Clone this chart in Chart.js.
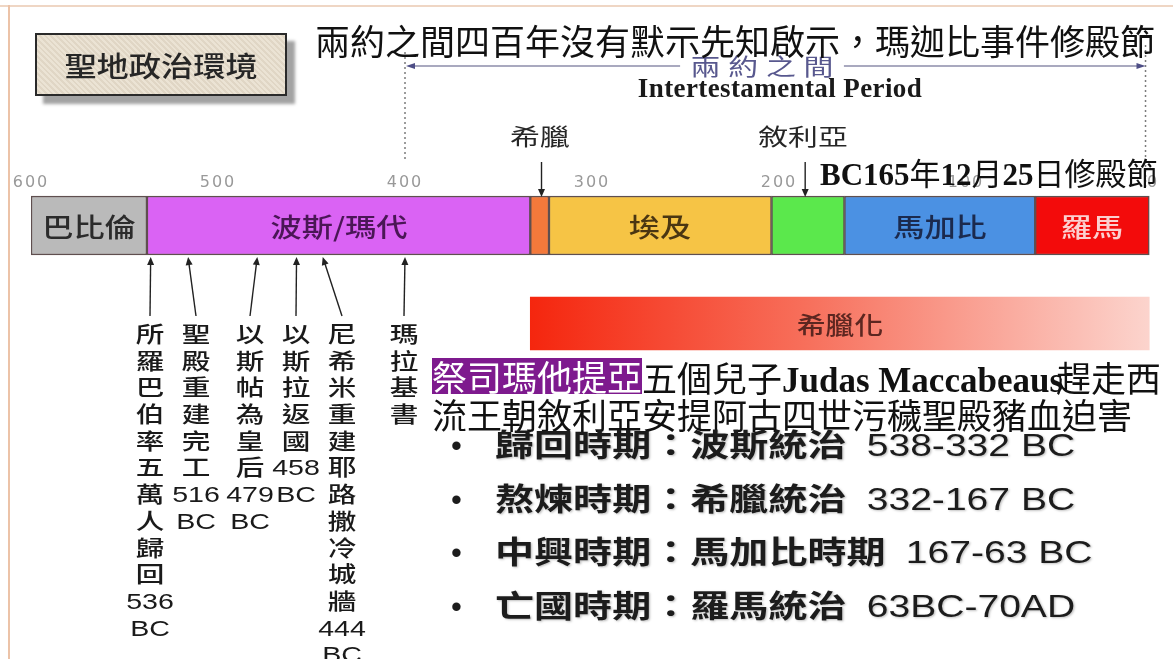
<!DOCTYPE html>
<html lang="zh-Hant">
<head>
<meta charset="utf-8">
<title>聖地政治環境</title>
<script src="https://cdn.jsdelivr.net/npm/chart.js@4.4.1/dist/chart.umd.min.js"></script>
<style>
    html, body { margin: 0; padding: 0; background: #fff; }
    #stage { position: relative; width: 1173px; height: 659px; overflow: hidden; font-family: "Noto Sans CJK TC", sans-serif; color: #1a1a1a; }
    #chart { position: absolute; left: 0; top: 0; }
    .abs { position: absolute; white-space: nowrap; }
    .frame-top { position: absolute; left: 0; top: 5px; width: 1173px; height: 1.5px; background: #efd6c4; }
    .frame-left { position: absolute; left: 8px; top: 5px; width: 1.5px; height: 654px; background: #ecc3a8; }
    .title-box { left: 35px; top: 33px; width: 248px; height: 59px; border: 2px solid #2a2a2a; background: #e7ddcb;
                 background-image: repeating-linear-gradient(45deg, rgba(255,255,255,0.18) 0 2px, rgba(0,0,0,0.03) 2px 4px);
                 box-shadow: 8px 8px 3px #a3a3a3; }
    .title-box span { position: absolute; left: 50%; top: 50%; transform: translate(-50%, -50%) scaleX(1.15); font-size: 28px; font-weight: 500; color: #262626; }
    .headline { left: 315px; top: 20px; font-size: 35px; line-height: 40px; color: #111; }
    .gap-label { left: 762px; top: 65px; transform: translate(-50%, -50%) scaleX(1.3); font-size: 23px; letter-spacing: 6px; padding: 0 2px 0 8px;
                 color: #58588e; background: #fff; line-height: 24px; }
    .en { font-family: "Liberation Serif", "Noto Sans CJK TC", serif; font-weight: bold; }
    .period-en { left: 780px; top: 88px; transform: translate(-50%, -50%); font-size: 27px; letter-spacing: 0.4px; line-height: 30px; color: #1a1a1a; }
    .marker { transform: translate(-50%, -50%) scaleX(1.3); font-size: 23px; line-height: 26px; color: #262626; }
    .feast { left: 820px; top: 152px; font-size: 31px; line-height: 40px; color: #111; }
    .bar-label { transform: translate(-50%, -50%) scaleX(1.2); font-size: 26px; line-height: 30px; font-weight: 500; }
    .col { top: 322px; width: 60px; margin-left: -30px; text-align: center; font-family: "Liberation Sans", "Noto Sans CJK TC", sans-serif;
           font-size: 22px; color: #1a1a1a; transform: scaleX(1.3); font-weight: 500; }
    .col div { height: 26.7px; line-height: 26.7px; }
    .para { left: 432px; font-size: 35px; line-height: 37px; height: 37px; color: #111; }
    .para .hl { display: inline-block; height: 36px; line-height: 36px; background: #7e1a8e; color: #fff; vertical-align: top; }
    .para .en { font-size: 35px; }
    .bullet { left: 451px; font-family: "Liberation Sans", sans-serif; font-size: 31px; line-height: 40px; color: #1c1c1c; }
    .sum { left: 495px; font-family: "Liberation Sans", "Noto Sans CJK TC", sans-serif; font-size: 31px; line-height: 40px; font-weight: bold;
           color: #1c1c1c; transform-origin: left center; transform: scaleX(1.26); text-shadow: 1px 1px 2px rgba(0,0,0,0.25); }
    .sum .yr { font-weight: normal; margin-left: 16px; }
</style>
</head>
<body>
<div id="stage">
    <div class="frame-top"></div>
    <div class="frame-left"></div>
    <canvas id="chart" width="1173" height="659"></canvas>
    <div class="abs title-box"><span>聖地政治環境</span></div>
    <div class="abs gap-label">兩約之間</div>
    <div class="abs headline">兩約之間四百年沒有默示先知啟示，瑪迦比事件修殿節</div>
    <div class="abs en period-en">Intertestamental Period</div>
    <div class="abs feast"><span class="en">BC165</span>年<span class="en">12</span>月<span class="en">25</span>日修殿節</div>
    <div class="abs para" style="top:358px"><span class="hl">祭司瑪他提亞</span>五個兒子<span class="en">Judas Maccabeaus</span><span style="margin-left:-7px">趕走西</span></div>
    <div class="abs para" style="top:395px">流王朝敘利亞安提阿古四世污穢聖殿豬血迫害</div>
    <div id="overlay"></div>
</div>
<script>
// timeline rows
const rowLabels = ['政權', '希臘化'];

// ruling powers, years BC (from -> to)
const periodNames = ['巴比倫', '波斯/瑪代', '', '埃及', '', '馬加比', '羅馬'];
const periodFrom  = [600, 538, 333, 323, 204, 165, 63];
const periodTo    = [538, 333, 323, 204, 165, 63, 2];

// hellenization band
const hellenRange = [333, 2];

// intertestamental period bounds
const gapRange = [400, 4];

// markers above the bar
const markerYears = [327, 186];
const markerNames = ['希臘', '敘利亞'];

// events below the bar
const eventYears    = [536, 516, 479, 458, 444, 400];
const eventNames    = ['所羅巴伯率五萬人歸回', '聖殿重建完工', '以斯帖為皇后', '以斯拉返國', '尼希米重建耶路撒冷城牆', '瑪拉基書'];
const eventYearText = ['536', '516', '479', '458', '444', ''];

// summary list
const summaryNames = ['歸回時期：波斯統治', '熬煉時期：希臘統治', '中興時期：馬加比時期', '亡國時期：羅馬統治'];
const summaryYears = ['538-332 BC', '332-167 BC', '167-63 BC', '63BC-70AD'];

// styles
const PERIOD_COLORS = ['#bababa', '#da63f4', '#f4793b', '#f6c445', '#5be84c', '#4b91e3', '#f30b0b'];
const PERIOD_TEXT   = ['#2b2b2b', '#4a1656', '#333', '#4a3612', '#333', '#1b2a4e', '#fbd0d0'];
const EVENT_TEXT_X  = [150, 196, 250, 296, 342, 404];
const SUMMARY_Y     = [446, 500, 553, 607];

const datasets = periodNames.map((name, i) => ({
    label: name || ('period' + i),
    data: [[periodFrom[i], periodTo[i]], null],
    backgroundColor: PERIOD_COLORS[i],
    borderColor: '#5f4f4f',
    borderWidth: 1.5,
    borderSkipped: false,
    barThickness: 59,
    grouped: false
}));

datasets.push({
    label: '希臘化',
    data: [null, hellenRange],
    backgroundColor: (c) => {
        const chart = c.chart;
        if (!chart.chartArea) return '#f88a78';
        const x = chart.scales.x;
        const g = chart.ctx.createLinearGradient(x.getPixelForValue(hellenRange[0]), 0, x.getPixelForValue(hellenRange[1]), 0);
        g.addColorStop(0, '#f5260e');
        g.addColorStop(0.45, '#f7705c');
        g.addColorStop(1, '#fcd4cd');
        return g;
    },
    borderWidth: 0,
    barThickness: 53,
    grouped: false
});

function arrow(ctx, x1, y1, x2, y2, len, half) {
    const a = Math.atan2(y2 - y1, x2 - x1);
    ctx.beginPath();
    ctx.moveTo(x1, y1);
    ctx.lineTo(x2 - Math.cos(a) * len * 0.8, y2 - Math.sin(a) * len * 0.8);
    ctx.stroke();
    ctx.beginPath();
    ctx.moveTo(x2, y2);
    ctx.lineTo(x2 - Math.cos(a) * len - Math.sin(a) * half, y2 - Math.sin(a) * len + Math.cos(a) * half);
    ctx.lineTo(x2 - Math.cos(a) * len + Math.sin(a) * half, y2 - Math.sin(a) * len - Math.cos(a) * half);
    ctx.closePath();
    ctx.fill();
}

const marksPlugin = {
    id: 'timelineMarks',
    beforeDraw(chart) { chart.ctx.letterSpacing = '2px'; },
    afterDraw(chart) {
        const { ctx } = chart;
        const x = chart.scales.x;
        ctx.save();
        ctx.letterSpacing = '0px';

        // dotted bounds of the intertestamental period
        const gx0 = x.getPixelForValue(gapRange[0]);
        const gx1 = x.getPixelForValue(gapRange[1]);
        ctx.strokeStyle = '#7c7c7c';
        ctx.lineWidth = 1.5;
        ctx.setLineDash([2, 3]);
        ctx.beginPath(); ctx.moveTo(gx0, 52); ctx.lineTo(gx0, 162); ctx.stroke();
        ctx.beginPath(); ctx.moveTo(gx1, 45); ctx.lineTo(gx1, 190); ctx.stroke();
        ctx.setLineDash([]);

        // 兩約之間 span arrow
        ctx.strokeStyle = '#8c8caa';
        ctx.fillStyle = '#4e4e86';
        ctx.lineWidth = 1.5;
        const mid = (gx0 + gx1) / 2;
        arrow(ctx, mid, 66, gx0 + 1, 66, 9, 3);
        arrow(ctx, mid, 66, gx1, 66, 9, 3);

        // markers pointing down onto the bar
        ctx.strokeStyle = '#222';
        ctx.fillStyle = '#222';
        ctx.lineWidth = 1.4;
        markerYears.forEach(y => {
            const px = x.getPixelForValue(y);
            arrow(ctx, px, 162, px, 197, 8, 3.5);
        });

        // events pointing up at the bar
        eventYears.forEach((y, i) => {
            const px = x.getPixelForValue(y);
            arrow(ctx, EVENT_TEXT_X[i], 316, px, 257, 8, 3.5);
        });
        ctx.restore();
    }
};

const chart = new Chart(document.getElementById('chart').getContext('2d'), {
    type: 'bar',
    data: { labels: rowLabels, datasets },
    options: {
        indexAxis: 'y',
        responsive: false,
        animation: false,
        layout: { padding: { left: 31, right: 20, top: 176.5, bottom: 286.5 } },
        plugins: { legend: { display: false }, tooltip: { enabled: false } },
        scales: {
            x: {
                type: 'linear',
                position: 'top',
                reverse: true,
                min: 0,
                max: 600,
                grid: { display: false, drawTicks: false },
                border: { display: false },
                ticks: {
                    stepSize: 100,
                    mirror: true,
                    padding: 0,
                    color: '#999',
                    font: { family: 'DejaVu Sans', size: 16, lineHeight: 0.75 }
                }
            },
            y: { type: 'category', display: false, offset: true }
        }
    },
    plugins: [marksPlugin]
});

// text placed from the chart's own scales
const overlay = document.getElementById('overlay');
const sx = chart.scales.x, sy = chart.scales.y;

function addText(cls, html, left, top, style) {
    const d = document.createElement('div');
    d.className = 'abs ' + cls;
    d.innerHTML = html;
    d.style.left = left + 'px';
    d.style.top = top + 'px';
    if (style) Object.assign(d.style, style);
    overlay.appendChild(d);
    return d;
}

periodNames.forEach((name, i) => {
    if (!name) return;
    const cx = (sx.getPixelForValue(periodFrom[i]) + sx.getPixelForValue(periodTo[i])) / 2;
    addText('bar-label', name, cx, sy.getPixelForValue(0), { color: PERIOD_TEXT[i] });
});

addText('bar-label', '希臘化',
    (sx.getPixelForValue(hellenRange[0]) + sx.getPixelForValue(hellenRange[1])) / 2,
    sy.getPixelForValue(1), { color: '#5c2620', fontSize: '24px' });

markerNames.forEach((name, i) => {
    addText('marker', name, sx.getPixelForValue(markerYears[i]) - 2, 135);
});

eventNames.forEach((name, i) => {
    const lines = name.split('');
    if (eventYearText[i]) lines.push(eventYearText[i], 'BC');
    addText('col', lines.map(s => '<div>' + s + '</div>').join(''), EVENT_TEXT_X[i], 322);
});

summaryNames.forEach((name, i) => {
    addText('bullet', '•', 451, SUMMARY_Y[i] - 20);
    addText('sum', name + '<span class="yr">' + summaryYears[i] + '</span>', 495, SUMMARY_Y[i] - 20);
});
</script>
</body>
</html>
